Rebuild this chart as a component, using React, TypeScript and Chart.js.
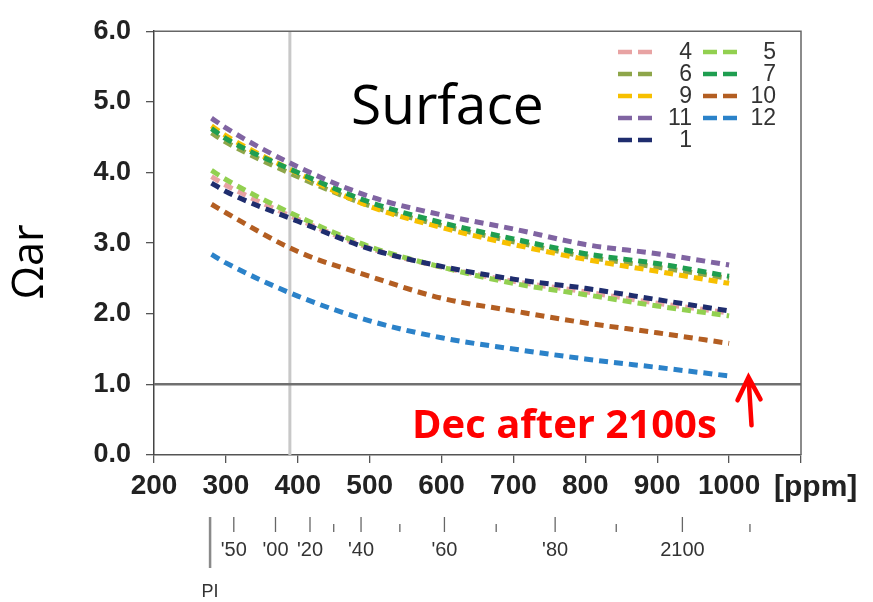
import React, { useEffect, useRef } from "react";
import { Chart, registerables } from "chart.js";

Chart.register(...registerables);

// ---- data ----
const ppm = [280, 300, 400, 500, 600, 700, 800, 900, 1000];
const month11 = [4.77, 4.63, 4.08, 3.66, 3.4, 3.2, 2.98, 2.85, 2.69];
const month7 = [4.62, 4.48, 4.0, 3.58, 3.29, 3.06, 2.85, 2.71, 2.53];
const month9 = [4.66, 4.52, 3.99, 3.52, 3.22, 2.98, 2.77, 2.6, 2.43];
const month6 = [4.56, 4.43, 3.94, 3.53, 3.25, 3.02, 2.81, 2.66, 2.5];
const month1 = [3.85, 3.73, 3.31, 2.92, 2.67, 2.49, 2.36, 2.2, 2.04];
const month5 = [4.03, 3.9, 3.38, 2.95, 2.66, 2.43, 2.27, 2.11, 1.97];
const month4 = [3.94, 3.82, 3.34, 2.93, 2.66, 2.46, 2.31, 2.15, 2.01];
const month10 = [3.55, 3.43, 2.88, 2.53, 2.22, 2.04, 1.87, 1.73, 1.58];
const month12 = [2.84, 2.72, 2.25, 1.9, 1.66, 1.5, 1.36, 1.24, 1.12];

const xTicks = [200, 300, 400, 500, 600, 700, 800, 900, 1000, 1100];
const yTicks = [0, 1, 2, 3, 4, 5, 6];

const currentPpm = 389;
const thresholdOmega = 1.0;

const piPpm = 278;
const yearPpm = [311, 369, 417, 450, 488, 542, 604, 676, 758, 843, 935, 1029];
const yearLabels = ["'50", "'00", "'20", "", "'40", "", "'60", "", "'80", "", "2100", ""];
const yearMajor = [true, true, true, false, true, false, true, false, true, false, true, false];

const legendLeft = ["4", "6", "9", "11", "1"];
const legendRight = ["5", "7", "10", "12"];

const colors: Record<string, string> = {
  "4": "#e8a3a3",
  "5": "#92d050",
  "6": "#8ea64a",
  "7": "#1f9e50",
  "9": "#f7c000",
  "10": "#b35e22",
  "11": "#8064a2",
  "12": "#2b82c9",
  "1": "#1f2d6e",
};

const seriesOrder: [string, number[]][] = [
  ["11", month11],
  ["7", month7],
  ["9", month9],
  ["6", month6],
  ["1", month1],
  ["5", month5],
  ["4", month4],
  ["10", month10],
  ["12", month12],
];

const pts = (ys: number[]) => ys.map((y, i) => ({ x: ppm[i], y }));

const overlay = {
  id: "overlay",
  afterDraw(chart: any) {
    const ctx = chart.ctx;
    const xs = chart.scales.x;
    const ys = chart.scales.y;
    const ca = chart.chartArea;
    ctx.save();
    // box
    ctx.strokeStyle = "#666";
    ctx.lineWidth = 1.5;
    ctx.beginPath();
    ctx.moveTo(ca.left, ca.top);
    ctx.lineTo(ca.right, ca.top);
    ctx.lineTo(ca.right, ca.bottom);
    ctx.stroke();

    // legend
    const drawCol = (labels: string[], sx: number, tx: number) => {
      labels.forEach((lab, i) => {
        const y = 52 + i * 22;
        ctx.strokeStyle = colors[lab];
        ctx.lineWidth = 4.5;
        ctx.lineCap = "butt";
        ctx.setLineDash([]);
        ctx.beginPath();
        ctx.moveTo(sx, y);
        ctx.lineTo(sx + 14, y);
        ctx.moveTo(sx + 20, y);
        ctx.lineTo(sx + 34, y);
        ctx.stroke();
        ctx.fillStyle = "#333";
        ctx.font = "23px 'Liberation Sans', Arial, sans-serif";
        ctx.textAlign = "right";
        ctx.textBaseline = "middle";
        ctx.fillText(lab, tx, y + 1);
      });
    };
    drawCol(legendLeft, 618, 692);
    drawCol(legendRight, 703, 776);

    // Surface title
    ctx.fillStyle = "#000";
    ctx.font = "55px 'Open Sans', sans-serif";
    ctx.textAlign = "left";
    ctx.textBaseline = "alphabetic";
    ctx.fillText("Surface", 351, 124);

    // y title
    ctx.save();
    ctx.translate(43, 262);
    ctx.rotate(-Math.PI / 2);
    ctx.font = "43px 'Open Sans', sans-serif";
    ctx.textAlign = "center";
    ctx.textBaseline = "alphabetic";
    ctx.fillText("Ωar", 0, 0);
    ctx.restore();

    // [ppm]
    ctx.font = "bold 30px 'Liberation Sans', Arial, sans-serif";
    ctx.fillStyle = "#222";
    ctx.textAlign = "left";
    ctx.textBaseline = "middle";
    ctx.fillText("[ppm]", 774, 488);

    // red annotation
    ctx.fillStyle = "#ff0000";
    ctx.font = "bold 40px 'Open Sans', sans-serif";
    ctx.textAlign = "left";
    ctx.textBaseline = "alphabetic";
    ctx.fillText("Dec after 2100s", 412, 438);

    const ax = xs.getPixelForValue(1027);
    const tipY = ys.getPixelForValue(1.1);
    const baseY = ys.getPixelForValue(0.42);
    ctx.strokeStyle = "#ff0000";
    ctx.lineWidth = 4.5;
    ctx.lineCap = "round";
    ctx.beginPath();
    ctx.moveTo(ax + 3, baseY);
    ctx.lineTo(ax, tipY);
    ctx.moveTo(ax - 11, tipY + 23);
    ctx.lineTo(ax, tipY);
    ctx.lineTo(ax + 12, tipY + 22);
    ctx.stroke();

    // timeline
    ctx.lineCap = "butt";
    const px0 = xs.getPixelForValue(piPpm);
    ctx.strokeStyle = "#8a8a8a";
    ctx.lineWidth = 2.5;
    ctx.beginPath();
    ctx.moveTo(px0, 517);
    ctx.lineTo(px0, 568);
    ctx.stroke();
    ctx.fillStyle = "#333";
    ctx.font = "18px 'Liberation Sans', Arial, sans-serif";
    ctx.textAlign = "center";
    ctx.textBaseline = "alphabetic";
    ctx.fillText("PI", px0, 597);

    yearPpm.forEach((p, i) => {
      const x = xs.getPixelForValue(p);
      ctx.strokeStyle = "#666";
      ctx.lineWidth = 1.3;
      ctx.beginPath();
      ctx.moveTo(x, yearMajor[i] ? 517 : 524);
      ctx.lineTo(x, 532);
      ctx.stroke();
      if (yearLabels[i]) {
        ctx.fillStyle = "#333";
        ctx.font = "20px 'Liberation Sans', Arial, sans-serif";
        ctx.fillText(yearLabels[i], x, 556);
      }
    });
    ctx.restore();
  },
};

export default function App() {
  const ref = useRef<HTMLCanvasElement | null>(null);
  useEffect(() => {
    if (!ref.current) return;
    const datasets: any[] = [
      {
        label: "1.0",
        data: [
          { x: xTicks[0], y: thresholdOmega },
          { x: xTicks[xTicks.length - 1], y: thresholdOmega },
        ],
        borderColor: "#707070",
        borderWidth: 2.5,
        pointRadius: 0,
        order: 20,
      },
      {
        label: "now",
        data: [
          { x: currentPpm, y: yTicks[0] },
          { x: currentPpm, y: yTicks[yTicks.length - 1] },
        ],
        borderColor: "#c8c8c8",
        borderWidth: 3,
        pointRadius: 0,
        order: 21,
      },
      ...seriesOrder.map(([lab, ys], i) => ({
        label: lab,
        data: pts(ys),
        borderColor: colors[lab],
        borderWidth: 5,
        borderDash: [9, 6],
        pointRadius: 0,
        cubicInterpolationMode: "monotone",
        fill: false,
        order: i,
      })),
    ];
    const chart = new Chart(ref.current, {
      type: "line",
      data: { datasets },
      options: {
        animation: false,
        responsive: false,
        layout: { padding: { left: 0, top: 23, right: 72, bottom: 0 } },
        plugins: { legend: { display: false }, tooltip: { enabled: false } },
        scales: {
          x: {
            type: "linear",
            min: 200,
            max: 1100,
            afterFit: (s: any) => {
              s.height = 147;
            },
            afterBuildTicks: (s: any) => {
              s.ticks = xTicks.map((v) => ({ value: v }));
            },
            ticks: {
              callback: (v: any) => (Number(v) <= 1000 ? String(v) : ""),
              font: { family: "'Liberation Sans', Arial, sans-serif", size: 28, weight: "bold" },
              color: "#222",
              padding: 6,
              maxRotation: 0,
              autoSkip: false,
            },
            grid: { drawOnChartArea: false, drawTicks: true, tickLength: 8, color: "#555", lineWidth: 1.3 },
            border: { display: true, color: "#555", width: 1.5 },
          },
          y: {
            type: "linear",
            min: 0,
            max: 6,
            afterFit: (s: any) => {
              s.width = 154;
            },
            afterBuildTicks: (s: any) => {
              s.ticks = yTicks.map((v) => ({ value: v }));
            },
            ticks: {
              callback: (v: any) => Number(v).toFixed(1),
              font: { family: "'Liberation Sans', Arial, sans-serif", size: 27, weight: "bold" },
              color: "#222",
              padding: 15,
            },
            grid: { drawOnChartArea: false, drawTicks: true, tickLength: 8, color: "#555", lineWidth: 1.3 },
            border: { display: true, color: "#444", width: 1.5 },
          },
        },
      },
      plugins: [overlay],
    });
    return () => chart.destroy();
  }, []);
  return (
    <div style={{ position: "fixed", left: 0, top: 0, width: 873, height: 602, background: "#fff" }}>
      <canvas ref={ref} width={873} height={602} style={{ display: "block" }} />
    </div>
  );
}
